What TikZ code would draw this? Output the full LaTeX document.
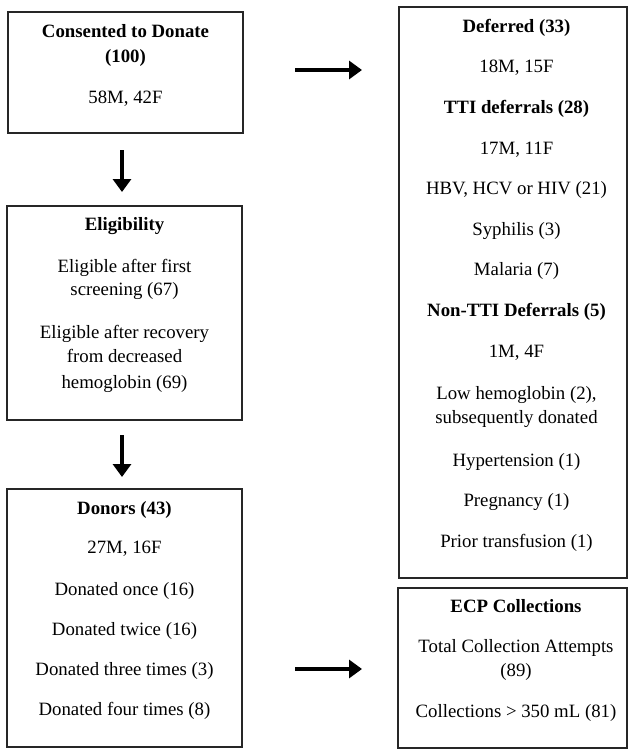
\documentclass[tikz,border=0pt]{standalone}
\usepackage{fontspec}
\setmainfont{Liberation Serif}
\usetikzlibrary{arrows.meta}
\tikzset{
  box/.style={draw=black!85, line width=1.4pt, inner sep=0pt, outer sep=0pt},
  txt/.style={inner sep=0pt, anchor=base, font=\fontsize{18.8}{23.5}\selectfont},
  arr/.style={line width=3.8pt, -{Triangle[length=13pt,width=18pt]}}
}
\begin{document}
\begin{tikzpicture}[x=1pt,y=-1pt]
\useasboundingbox (0,0) rectangle (628,749);
% boxes
\node[box, minimum width=235pt, minimum height=121pt] (b1) at (125.5,72.5) {};
\node[box, minimum width=235pt, minimum height=214pt] (b2) at (124.5,313) {};
\node[box, minimum width=235pt, minimum height=258pt] (b3) at (124.5,618) {};
\node[box, minimum width=228pt, minimum height=571pt] (b4) at (513,292.5) {};
\node[box, minimum width=229pt, minimum height=160pt] (b5) at (512.5,668) {};
% texts
\foreach \ty/\lbl [count=\i] in {37.5/{\textbf{Consented to Donate}}, 62.5/{\textbf{(100)}}, 103.5/{58M, 42F}}
  \node[txt] (t1-\i) at (125.5,\ty) {\lbl};
\foreach \ty/\lbl [count=\i] in {230.5/{\textbf{Eligibility}}, 272.5/{Eligible after first}, 295.5/{screening (67)}, 338.5/{Eligible after recovery}, 362.5/{from decreased}, 388.5/{hemoglobin (69)}}
  \node[txt] (t2-\i) at (124.5,\ty) {\lbl};
\foreach \ty/\lbl [count=\i] in {514.5/{\textbf{Donors (43)}}, 553.5/{27M, 16F}, 595.5/{Donated once (16)}, 635.5/{Donated twice (16)}, 675.5/{Donated three times (3)}, 715.5/{Donated four times (8)}}
  \node[txt] (t3-\i) at (124.5,\ty) {\lbl};
\foreach \ty/\lbl [count=\i] in {32.5/{\textbf{Deferred (33)}}, 73/{18M, 15F}, 113.5/{\textbf{TTI deferrals (28)}}, 154/{17M, 11F}, 194.5/{HBV, HCV or HIV (21)}, 235/{Syphilis (3)}, 275.5/{Malaria (7)}, 316/{\textbf{Non-TTI Deferrals (5)}}, 357.5/{1M, 4F}, 399/{Low hemoglobin (2),}, 423.5/{subsequently donated}, 466/{Hypertension (1)}, 506.5/{Pregnancy (1)}, 547.5/{Prior transfusion (1)}}
  \node[txt] (t4-\i) at (516.5,\ty) {\lbl};
\foreach \ty/\lbl [count=\i] in {612.5/{\textbf{ECP Collections}}, 652.5/{Total Collection Attempts}, 676.5/{(89)}, 717.5/{Collections > 350 mL (81)}}
  \node[txt] (t5-\i) at (516,\ty) {\lbl};
% arrows
\draw[arr, shorten <=17pt, shorten >=14pt] ([xshift=-3.5pt]b1.south) -- ([xshift=-2.5pt]b2.north);
\draw[arr, shorten <=15pt, shorten >=12pt] ([xshift=-2.5pt]b2.south) -- ([xshift=-2.5pt]b3.north);
\draw[arr, shorten <=52pt, shorten >=37pt] ([yshift=2.5pt]b1.east) -- ([yshift=2.5pt]b1.east -| b4.west);
\draw[arr, shorten <=53pt, shorten >=36pt] ([yshift=-1pt]b5.west -| b3.east) -- ([yshift=-1pt]b5.west);
\end{tikzpicture}
\end{document}
